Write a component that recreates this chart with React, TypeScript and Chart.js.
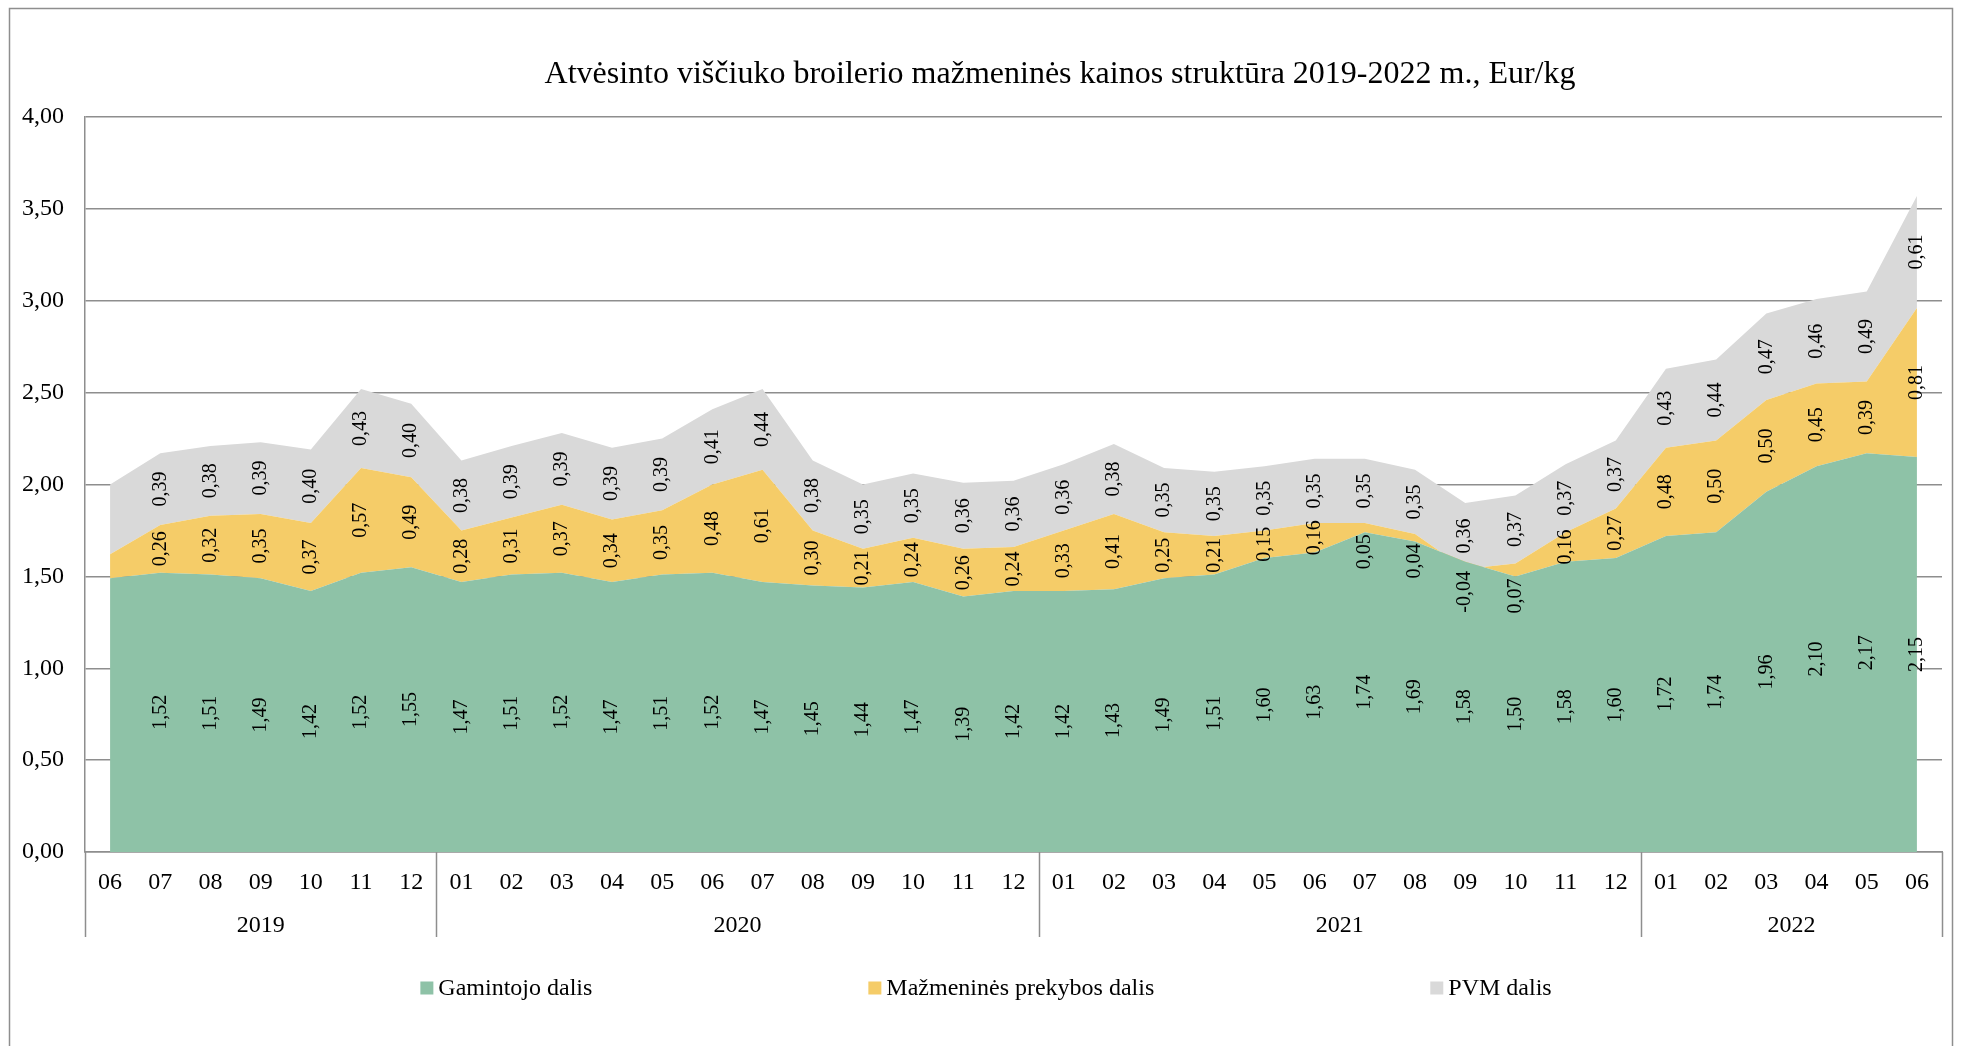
import React, { useEffect, useRef } from 'react';
import { Chart, registerables } from 'chart.js';

Chart.register(...registerables);

const months = [
  '06', '07', '08', '09', '10', '11', '12',
  '01', '02', '03', '04', '05', '06', '07', '08', '09', '10', '11', '12',
  '01', '02', '03', '04', '05', '06', '07', '08', '09', '10', '11', '12',
  '01', '02', '03', '04', '05', '06',
];
const yearLabels = ['2019', '2020', '2021', '2022'];
const yearCounts = [7, 12, 12, 6];

const gamintojo = [
  1.49, 1.52, 1.51, 1.49, 1.42, 1.52, 1.55,
  1.47, 1.51, 1.52, 1.47, 1.51, 1.52, 1.47, 1.45, 1.44, 1.47, 1.39, 1.42,
  1.42, 1.43, 1.49, 1.51, 1.60, 1.63, 1.74, 1.69, 1.58, 1.50, 1.58, 1.60,
  1.72, 1.74, 1.96, 2.10, 2.17, 2.15,
];
const mazmenine = [
  0.13, 0.26, 0.32, 0.35, 0.37, 0.57, 0.49,
  0.28, 0.31, 0.37, 0.34, 0.35, 0.48, 0.61, 0.30, 0.21, 0.24, 0.26, 0.24,
  0.33, 0.41, 0.25, 0.21, 0.15, 0.16, 0.05, 0.04, -0.04, 0.07, 0.16, 0.27,
  0.48, 0.50, 0.50, 0.45, 0.39, 0.81,
];
const pvm = [
  0.38, 0.39, 0.38, 0.39, 0.40, 0.43, 0.40,
  0.38, 0.39, 0.39, 0.39, 0.39, 0.41, 0.44, 0.38, 0.35, 0.35, 0.36, 0.36,
  0.36, 0.38, 0.35, 0.35, 0.35, 0.35, 0.35, 0.35, 0.36, 0.37, 0.37, 0.37,
  0.43, 0.44, 0.47, 0.46, 0.49, 0.61,
];
const seriesNames = ['Gamintojo dalis', 'Mažmeninės prekybos dalis', 'PVM dalis'];
const seriesColors = ['#8EC2A7', '#F5CC68', '#D9D9D9'];
const firstLabelledIndex = 1;
const titleText = 'Atvėsinto viščiuko broilerio mažmeninės kainos struktūra 2019-2022 m., Eur/kg';

const FONT = '"Liberation Serif", "Times New Roman", serif';
const LINE = '#8E8E8E';

const fmt = (v: number) => v.toFixed(2).replace('.', ',');

const decorPlugin = {
  id: 'decor',
  afterDatasetsDraw(chart: any) {
    const ctx = chart.ctx;
    const yScale = chart.scales.y;
    const zeroY = yScale.getPixelForValue(0);
    ctx.save();
    ctx.font = `20px ${FONT}`;
    ctx.fillStyle = '#000';
    ctx.textAlign = 'center';
    ctx.textBaseline = 'middle';
    chart.data.datasets.forEach((ds: any, di: number) => {
      const meta = chart.getDatasetMeta(di);
      const prev = di > 0 ? chart.getDatasetMeta(di - 1) : null;
      meta.data.forEach((pt: any, i: number) => {
        if (i < firstLabelledIndex) return;
        const text = fmt(ds.data[i]);
        const yTop = pt.y;
        const yBot = prev ? prev.data[i].y : zeroY;
        let yc = (yTop + yBot) / 2;
        const bandPx = Math.abs(yBot - yTop);
        if (bandPx < 20) {
          // very thin band: label hangs below the band
          const lower = Math.max(yTop, yBot);
          const len = ctx.measureText(text).width;
          yc = lower + 2 + len / 2;
        }
        ctx.save();
        ctx.translate(pt.x, yc);
        ctx.rotate(-Math.PI / 2);
        ctx.fillText(text, 0, 0);
        ctx.restore();
      });
    });
    ctx.restore();
  },
  afterDraw(chart: any) {
    const ctx = chart.ctx;
    const xScale = chart.scales.x;
    const area = chart.chartArea;
    const n = chart.data.labels.length;
    const cat = xScale.width / n;
    ctx.save();
    // outer frame
    ctx.strokeStyle = LINE;
    ctx.lineWidth = 1.5;
    ctx.strokeRect(9.5, 8.5, 1943, 1100);

    // year separators and labels
    const sepBottom = area.bottom + 85;
    ctx.beginPath();
    let start = 0;
    const bounds: number[] = [0];
    yearCounts.forEach((c) => {
      start += c;
      bounds.push(start);
    });
    bounds.forEach((b) => {
      const x = Math.round(xScale.left + b * cat) + 0.5;
      ctx.moveTo(x, area.bottom);
      ctx.lineTo(x, sepBottom);
    });
    ctx.stroke();

    ctx.font = `24px ${FONT}`;
    ctx.fillStyle = '#000';
    ctx.textAlign = 'center';
    ctx.textBaseline = 'middle';
    yearLabels.forEach((y, k) => {
      const x0 = xScale.left + bounds[k] * cat;
      const x1 = xScale.left + bounds[k + 1] * cat;
      ctx.fillText(y, (x0 + x1) / 2, area.bottom + 74);
    });

    // title
    ctx.font = `32px ${FONT}`;
    ctx.textBaseline = 'alphabetic';
    ctx.fillText(titleText, 1060, 83);

    // legend
    ctx.font = `24px ${FONT}`;
    const box = 13;
    const gapText = 5;
    const gapItems = 276;
    const widths = seriesNames.map((s) => box + gapText + ctx.measureText(s).width);
    const total = widths.reduce((a, b) => a + b, 0) + gapItems * (widths.length - 1);
    let lx = 986 - total / 2;
    const ly = 988;
    ctx.textAlign = 'left';
    ctx.textBaseline = 'middle';
    seriesNames.forEach((s, k) => {
      ctx.fillStyle = seriesColors[k];
      ctx.fillRect(lx, ly - box / 2, box, box);
      ctx.fillStyle = '#000';
      ctx.fillText(s, lx + box + gapText, ly + 1);
      lx += widths[k] + gapItems;
    });
    ctx.restore();
  },
};

export default function App() {
  const ref = useRef<HTMLCanvasElement | null>(null);

  useEffect(() => {
    document.body.style.margin = '0';
    const canvas = ref.current;
    if (!canvas) return;
    const series = [gamintojo, mazmenine, pvm];
    const chart = new Chart(canvas, {
      type: 'line',
      data: {
        labels: months,
        datasets: series.map((d, k) => ({
          label: seriesNames[k],
          data: d,
          backgroundColor: seriesColors[k],
          borderColor: seriesColors[k],
          borderWidth: 0,
          pointRadius: 0,
          tension: 0,
          fill: k === 0 ? 'origin' : '-1',
        })),
      },
      options: {
        animation: false,
        responsive: false,
        devicePixelRatio: 1,
        layout: { padding: { left: 0, top: 117, right: 19, bottom: 0 } },
        plugins: {
          legend: { display: false },
          title: { display: false },
          tooltip: { enabled: false },
        },
        scales: {
          x: {
            type: 'category',
            offset: true,
            grid: { display: false, drawTicks: false },
            border: { display: true, color: LINE, width: 1.5 },
            ticks: {
              autoSkip: false,
              maxRotation: 0,
              minRotation: 0,
              padding: 16,
              color: '#000',
              font: { family: FONT, size: 24 },
            },
            afterFit: (s: any) => {
              s.height = 194;
            },
          },
          y: {
            stacked: 'single',
            min: 0,
            max: 4,
            grid: { color: LINE, lineWidth: 1.5, drawTicks: false },
            border: { display: true, color: LINE, width: 1.5 },
            ticks: {
              stepSize: 0.5,
              padding: 21,
              color: '#000',
              font: { family: FONT, size: 24 },
              callback: (v: any) => fmt(Number(v)),
            },
            afterFit: (s: any) => {
              s.width = 85;
            },
          },
        },
      },
      plugins: [decorPlugin],
    });
    return () => chart.destroy();
  }, []);

  return (
    <div style={{ width: 1961, height: 1046, background: '#fff' }}>
      <canvas ref={ref} width={1961} height={1046} style={{ display: 'block' }} />
    </div>
  );
}
